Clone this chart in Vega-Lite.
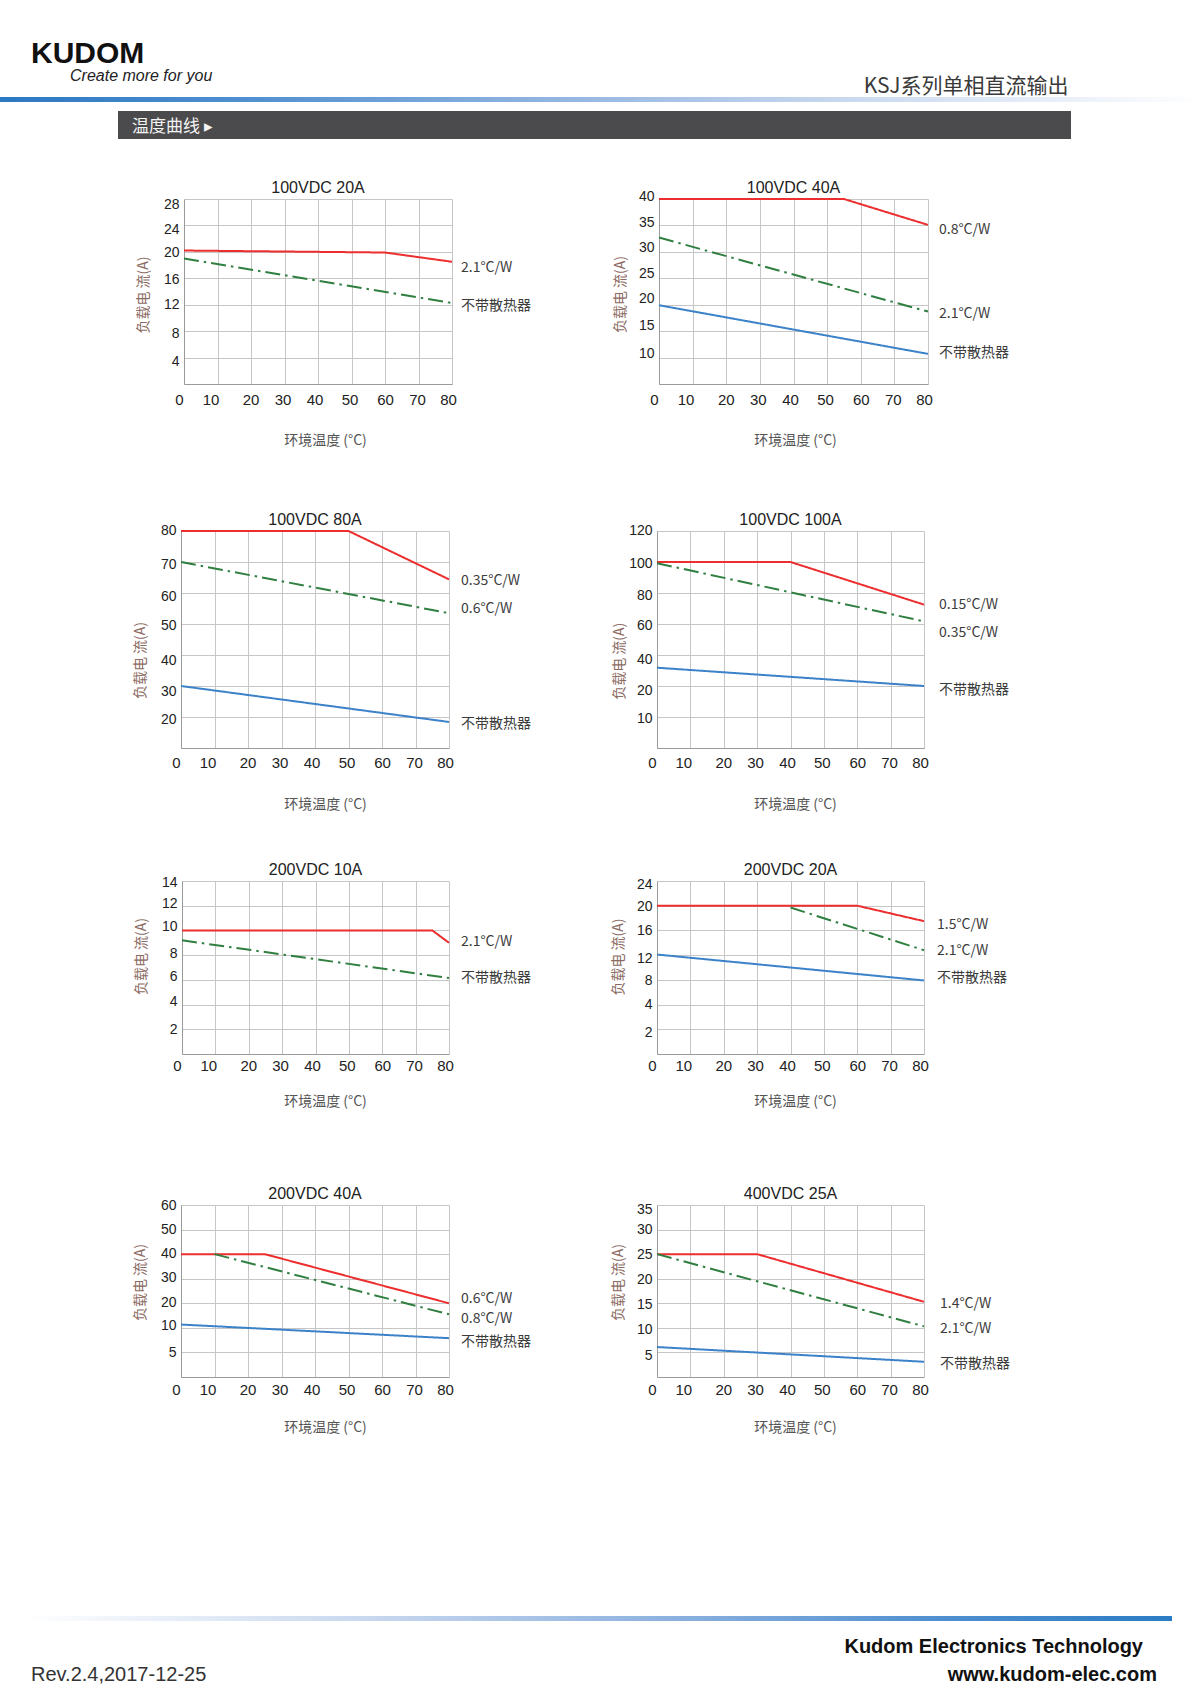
{
  "$schema": "https://vega.github.io/schema/vega-lite/v6.json",
  "padding": 0,
  "background": "white",
  "spacing": 0,
  "datasets": {
    "curves": [
      {"c":"100VDC 20A","k":1,"t":0,"i":20.2},{"c":"100VDC 20A","k":1,"t":60,"i":19.9},{"c":"100VDC 20A","k":1,"t":80,"i":18.5},
      {"c":"100VDC 20A","k":2,"t":0,"i":19.0},{"c":"100VDC 20A","k":2,"t":80,"i":12.25},
      {"c":"100VDC 40A","k":1,"t":0,"i":40},{"c":"100VDC 40A","k":1,"t":55,"i":40},{"c":"100VDC 40A","k":1,"t":80,"i":35.1},
      {"c":"100VDC 40A","k":2,"t":0,"i":32.7},{"c":"100VDC 40A","k":2,"t":80,"i":18.7},
      {"c":"100VDC 40A","k":3,"t":0,"i":19.9},{"c":"100VDC 40A","k":3,"t":80,"i":10.7},
      {"c":"100VDC 80A","k":1,"t":0,"i":80},{"c":"100VDC 80A","k":1,"t":50,"i":80},{"c":"100VDC 80A","k":1,"t":80,"i":64.4},
      {"c":"100VDC 80A","k":2,"t":0,"i":70},{"c":"100VDC 80A","k":2,"t":80,"i":53.5},
      {"c":"100VDC 80A","k":3,"t":0,"i":30},{"c":"100VDC 80A","k":3,"t":80,"i":18.4},
      {"c":"100VDC 100A","k":1,"t":0,"i":100},{"c":"100VDC 100A","k":1,"t":40,"i":100},{"c":"100VDC 100A","k":1,"t":80,"i":72.5},
      {"c":"100VDC 100A","k":2,"t":0,"i":99.2},{"c":"100VDC 100A","k":2,"t":80,"i":61.7},
      {"c":"100VDC 100A","k":3,"t":0,"i":31.8},{"c":"100VDC 100A","k":3,"t":80,"i":20},
      {"c":"200VDC 10A","k":1,"t":0,"i":10},{"c":"200VDC 10A","k":1,"t":75,"i":10},{"c":"200VDC 10A","k":1,"t":80,"i":9.0},
      {"c":"200VDC 10A","k":2,"t":0,"i":9.2},{"c":"200VDC 10A","k":2,"t":80,"i":6.15},
      {"c":"200VDC 20A","k":1,"t":0,"i":20},{"c":"200VDC 20A","k":1,"t":60,"i":20},{"c":"200VDC 20A","k":1,"t":80,"i":17.5},
      {"c":"200VDC 20A","k":2,"t":40,"i":19.7},{"c":"200VDC 20A","k":2,"t":80,"i":12.8},
      {"c":"200VDC 20A","k":3,"t":0,"i":12.1},{"c":"200VDC 20A","k":3,"t":80,"i":7.9},
      {"c":"200VDC 40A","k":1,"t":0,"i":40},{"c":"200VDC 40A","k":1,"t":25,"i":40},{"c":"200VDC 40A","k":1,"t":80,"i":20},
      {"c":"200VDC 40A","k":2,"t":10,"i":40},{"c":"200VDC 40A","k":2,"t":80,"i":15.5},
      {"c":"200VDC 40A","k":3,"t":0,"i":11.35},{"c":"200VDC 40A","k":3,"t":80,"i":5.8},
      {"c":"400VDC 25A","k":1,"t":0,"i":25},{"c":"400VDC 25A","k":1,"t":30,"i":25},{"c":"400VDC 25A","k":1,"t":80,"i":15.3},
      {"c":"400VDC 25A","k":2,"t":0,"i":25},{"c":"400VDC 25A","k":2,"t":80,"i":10.3},
      {"c":"400VDC 25A","k":3,"t":0,"i":6.1},{"c":"400VDC 25A","k":3,"t":80,"i":3.1}
    ],
    "labels": [
      {"c":"100VDC 20A","label":"2.1°C/W","i":17.6},{"c":"100VDC 20A","label":"不带散热器","i":11.8},
      {"c":"100VDC 40A","label":"0.8°C/W","i":34.1},{"c":"100VDC 40A","label":"2.1°C/W","i":18.2},{"c":"100VDC 40A","label":"不带散热器","i":10.8},
      {"c":"100VDC 80A","label":"0.35°C/W","i":63.9},{"c":"100VDC 80A","label":"0.6°C/W","i":54.9},{"c":"100VDC 80A","label":"不带散热器","i":17.8},
      {"c":"100VDC 100A","label":"0.15°C/W","i":72.5},{"c":"100VDC 100A","label":"0.35°C/W","i":54.2},{"c":"100VDC 100A","label":"不带散热器","i":17.3},
      {"c":"200VDC 10A","label":"2.1°C/W","i":9.05},{"c":"200VDC 10A","label":"不带散热器","i":6.13},
      {"c":"200VDC 20A","label":"1.5°C/W","i":16.9},{"c":"200VDC 20A","label":"2.1°C/W","i":12.75},{"c":"200VDC 20A","label":"不带散热器","i":8.24},
      {"c":"200VDC 40A","label":"0.6°C/W","i":21.9},{"c":"200VDC 40A","label":"0.8°C/W","i":13.8},{"c":"200VDC 40A","label":"不带散热器","i":4.4},
      {"c":"400VDC 25A","label":"1.4°C/W","i":14.9},{"c":"400VDC 25A","label":"2.1°C/W","i":9.7},{"c":"400VDC 25A","label":"不带散热器","i":2.6}
    ]
  },
  "vconcat": [
    {
      "spacing": 0, "bounds": "flush",
      "hconcat": [
        {"width": 70, "height": 95, "data": {"values": []}, "mark": "rect", "encoding": {},
         "title": {"text": "KUDOM", "anchor": "start", "frame": "group", "orient": "top", "offset": -93, "baseline": "alphabetic", "dx": 31, "font": "Liberation Sans", "fontSize": 30, "fontWeight": "bold", "color": "#111111"}},
        {"width": 800, "height": 95, "data": {"values": []}, "mark": "rect", "encoding": {},
         "title": {"text": "Create more for you", "anchor": "start", "frame": "group", "orient": "top", "offset": -97, "baseline": "alphabetic", "dx": 0, "font": "Liberation Sans", "fontSize": 16, "fontStyle": "italic", "fontWeight": "normal", "color": "#222222"}},
        {"width": 333, "height": 95, "data": {"values": []}, "mark": "rect", "encoding": {},
         "title": {"text": "KSJ系列单相直流输出", "anchor": "end", "frame": "group", "orient": "top", "offset": -113.5, "baseline": "alphabetic", "dx": -134.5, "font": "Noto Sans CJK SC", "fontSize": 21, "fontWeight": "normal", "color": "#3a3a3a"}}
      ]
    },
    {"width": 1203, "height": 5, "data": {"values": [{}]},
     "mark": {"type": "rect", "fill": {"gradient": "linear", "x1": 0, "y1": 0, "x2": 1, "y2": 0, "stops": [
       {"offset": 0, "color": "#2b78c2"}, {"offset": 0.2, "color": "#4f8fd0"}, {"offset": 0.45, "color": "#8fb3e0"}, {"offset": 0.7, "color": "#c8d8ef"}, {"offset": 1, "color": "#ffffff"}]}},
     "encoding": {}},
    {"width": 1, "height": 9, "data": {"values": []}, "mark": "rect", "encoding": {}},
    {
      "spacing": 0, "bounds": "flush",
      "hconcat": [
        {"width": 118, "height": 1, "data": {"values": []}, "mark": "rect", "encoding": {}},
        {"width": 953, "height": 28, "data": {"values": [{}]}, "mark": {"type": "rect", "fill": "#4b4b4d"}, "encoding": {},
         "title": {"text": "温度曲线 ▸", "anchor": "start", "frame": "group", "orient": "top", "offset": -38, "baseline": "alphabetic", "dx": 14, "font": "Noto Sans CJK SC", "fontSize": 17, "fontWeight": "normal", "color": "#f4f4f4"}}
      ]
    },
    {"width": 1, "height": 41, "data": {"values": []}, "mark": "rect", "encoding": {}},
    {
      "spacing": 0, "bounds": "flush",
      "hconcat": [
        {"width": 184, "height": 1, "data": {"values": []}, "mark": "rect", "encoding": {}},
        {
          "width": 268, "height": 185,
          "title": {"text": "100VDC 20A", "offset": 1},
          "layer": [
            {"data": {"name": "curves"}, "transform": [{"filter": "datum.c === '100VDC 20A'"}],
             "mark": {"type": "line", "strokeWidth": 2, "strokeCap": "butt"},
             "encoding": {
               "x": {"field": "t", "type": "quantitative", "scale": {"domain": [0, 80], "nice": false, "zero": false},
                     "axis": {"values": [0,10,20,30,40,50,60,70,80], "tickCount": 30, "format": "d", "title": "环境温度 (°C)", "titleX": 141, "titleY": 56, "labelPadding": 8.5}},
               "y": {"field": "i", "type": "quantitative", "scale": {"domain": [0, 28], "nice": false, "zero": false},
                     "axis": {"values": [4,8,12,16,20,24,28], "tickCount": 30, "format": "d", "title": "负载电 流(A)", "titleX": -41, "titleY": 95.5,
                              "labelOffset": {"expr": "datum.value == 28 ? 5 : datum.value == 24 ? 4 : datum.value == 20 ? 0.7 : datum.value == 16 ? 1 : datum.value == 8 ? 2 : datum.value == 4 ? 4 : 0"}}},
               "color": {"field": "k", "type": "nominal", "scale": {"domain": [1,2,3], "range": ["#ec2e2e","#2f7f40","#3b82c9"]}, "legend": null},
               "strokeDash": {"field": "k", "type": "nominal", "scale": {"domain": [1,2,3], "range": [[1,0],[15,5,2.5,5],[1,0]]}, "legend": null}
             }},
            {"data": {"name": "labels"}, "transform": [{"filter": "datum.c === '100VDC 20A'"}],
             "mark": {"type": "text", "align": "left", "baseline": "middle", "dx": 9, "font": "Noto Sans CJK SC", "fontSize": 14, "color": "#3c3c3c"},
             "encoding": {
               "x": {"datum": 80, "type": "quantitative", "title": "环境温度 (°C)"},
               "y": {"field": "i", "type": "quantitative", "title": "负载电 流(A)"},
               "text": {"field": "label", "type": "nominal"}
             }}
          ]
        },
        {"width": 207, "height": 1, "data": {"values": []}, "mark": "rect", "encoding": {}},
        {
          "width": 269, "height": 185,
          "title": {"text": "100VDC 40A", "offset": -6.3},
          "layer": [
            {"data": {"name": "curves"}, "transform": [{"filter": "datum.c === '100VDC 40A'"}],
             "mark": {"type": "line", "strokeWidth": 2, "strokeCap": "butt"},
             "encoding": {
               "x": {"field": "t", "type": "quantitative", "scale": {"domain": [0, 80], "nice": false, "zero": false},
                     "axis": {"values": [0,10,20,30,40,50,60,70,80], "tickCount": 30, "format": "d", "title": "环境温度 (°C)", "titleX": 136, "titleY": 56, "labelPadding": 8.5}},
               "y": {"field": "i", "type": "quantitative", "scale": {"domain": [5, 40], "nice": false, "zero": false},
                     "axis": {"values": [10,15,20,25,30,35,40], "tickCount": 30, "format": "d", "title": "负载电 流(A)", "titleX": -39, "titleY": 95,
                              "labelOffset": {"expr": "datum.value == 40 ? -2.3 : datum.value == 35 ? -2.6 : datum.value == 30 ? -4.4 : datum.value == 25 ? -4.7 : datum.value == 20 ? -6.6 : datum.value == 15 ? -5.7 : -3.7"}}},
               "color": {"field": "k", "type": "nominal", "scale": {"domain": [1,2,3], "range": ["#ec2e2e","#2f7f40","#3b82c9"]}, "legend": null},
               "strokeDash": {"field": "k", "type": "nominal", "scale": {"domain": [1,2,3], "range": [[1,0],[15,5,2.5,5],[1,0]]}, "legend": null}
             }},
            {"data": {"name": "labels"}, "transform": [{"filter": "datum.c === '100VDC 40A'"}],
             "mark": {"type": "text", "align": "left", "baseline": "middle", "dx": 11, "font": "Noto Sans CJK SC", "fontSize": 14, "color": "#3c3c3c"},
             "encoding": {
               "x": {"datum": 80, "type": "quantitative", "title": "环境温度 (°C)"},
               "y": {"field": "i", "type": "quantitative", "title": "负载电 流(A)"},
               "text": {"field": "label", "type": "nominal"}
             }}
          ]
        }
      ]
    },
    {"width": 1, "height": 65, "data": {"values": []}, "mark": "rect", "encoding": {}},
    {
      "spacing": 0, "bounds": "flush",
      "hconcat": [
        {"width": 181, "height": 1, "data": {"values": []}, "mark": "rect", "encoding": {}},
        {
          "width": 268, "height": 217,
          "title": {"text": "100VDC 80A", "offset": -4.7},
          "layer": [
            {"data": {"name": "curves"}, "transform": [{"filter": "datum.c === '100VDC 80A'"}],
             "mark": {"type": "line", "strokeWidth": 2, "strokeCap": "butt"},
             "encoding": {
               "x": {"field": "t", "type": "quantitative", "scale": {"domain": [0, 80], "nice": false, "zero": false},
                     "axis": {"values": [0,10,20,30,40,50,60,70,80], "tickCount": 30, "format": "d", "title": "环境温度 (°C)", "titleX": 144, "titleY": 56, "labelPadding": 7.5}},
               "y": {"field": "i", "type": "quantitative", "scale": {"domain": [10, 80], "nice": false, "zero": false},
                     "axis": {"values": [20,30,40,50,60,70,80], "tickCount": 30, "format": "d", "title": "负载电 流(A)", "titleX": -41, "titleY": 129,
                              "labelOffset": {"expr": "datum.value == 80 ? -0.7 : datum.value == 70 ? 2.3 : datum.value == 60 ? 3 : datum.value == 50 ? 1.7 : datum.value == 40 ? 5.7 : datum.value == 30 ? 5.3 : 2"}}},
               "color": {"field": "k", "type": "nominal", "scale": {"domain": [1,2,3], "range": ["#ec2e2e","#2f7f40","#3b82c9"]}, "legend": null},
               "strokeDash": {"field": "k", "type": "nominal", "scale": {"domain": [1,2,3], "range": [[1,0],[15,5,2.5,5],[1,0]]}, "legend": null}
             }},
            {"data": {"name": "labels"}, "transform": [{"filter": "datum.c === '100VDC 80A'"}],
             "mark": {"type": "text", "align": "left", "baseline": "middle", "dx": 12, "font": "Noto Sans CJK SC", "fontSize": 14, "color": "#3c3c3c"},
             "encoding": {
               "x": {"datum": 80, "type": "quantitative", "title": "环境温度 (°C)"},
               "y": {"field": "i", "type": "quantitative", "title": "负载电 流(A)"},
               "text": {"field": "label", "type": "nominal"}
             }}
          ]
        },
        {"width": 208, "height": 1, "data": {"values": []}, "mark": "rect", "encoding": {}},
        {
          "width": 267, "height": 217,
          "title": {"text": "100VDC 100A", "offset": -5},
          "layer": [
            {"data": {"name": "curves"}, "transform": [{"filter": "datum.c === '100VDC 100A'"}],
             "mark": {"type": "line", "strokeWidth": 2, "strokeCap": "butt"},
             "encoding": {
               "x": {"field": "t", "type": "quantitative", "scale": {"domain": [0, 80], "nice": false, "zero": false},
                     "axis": {"values": [0,10,20,30,40,50,60,70,80], "tickCount": 30, "format": "d", "title": "环境温度 (°C)", "titleX": 138, "titleY": 56, "labelPadding": 7.5}},
               "y": {"field": "i", "type": "quantitative", "scale": {"domain": [-20, 120], "nice": false, "zero": false},
                     "axis": {"values": [0,20,40,60,80,100,120], "tickCount": 30, "format": "d", "labelExpr": "datum.value == 0 ? '10' : datum.label", "title": "负载电 流(A)", "titleX": -38, "titleY": 129.7,
                              "labelOffset": {"expr": "datum.value == 120 ? -1 : datum.value == 100 ? 1.3 : datum.value == 80 ? 2.7 : datum.value == 60 ? 1.3 : datum.value == 40 ? 4.4 : datum.value == 20 ? 4.3 : 1.6"}}},
               "color": {"field": "k", "type": "nominal", "scale": {"domain": [1,2,3], "range": ["#ec2e2e","#2f7f40","#3b82c9"]}, "legend": null},
               "strokeDash": {"field": "k", "type": "nominal", "scale": {"domain": [1,2,3], "range": [[1,0],[15,5,2.5,5],[1,0]]}, "legend": null}
             }},
            {"data": {"name": "labels"}, "transform": [{"filter": "datum.c === '100VDC 100A'"}],
             "mark": {"type": "text", "align": "left", "baseline": "middle", "dx": 15, "font": "Noto Sans CJK SC", "fontSize": 14, "color": "#3c3c3c"},
             "encoding": {
               "x": {"datum": 80, "type": "quantitative", "title": "环境温度 (°C)"},
               "y": {"field": "i", "type": "quantitative", "title": "负载电 流(A)"},
               "text": {"field": "label", "type": "nominal"}
             }}
          ]
        }
      ]
    },
    {"width": 1, "height": 51, "data": {"values": []}, "mark": "rect", "encoding": {}},
    {
      "spacing": 0, "bounds": "flush",
      "hconcat": [
        {"width": 182, "height": 1, "data": {"values": []}, "mark": "rect", "encoding": {}},
        {
          "width": 267, "height": 173,
          "title": {"text": "200VDC 10A", "offset": -3},
          "layer": [
            {"data": {"name": "curves"}, "transform": [{"filter": "datum.c === '200VDC 10A'"}],
             "mark": {"type": "line", "strokeWidth": 2, "strokeCap": "butt"},
             "encoding": {
               "x": {"field": "t", "type": "quantitative", "scale": {"domain": [0, 80], "nice": false, "zero": false},
                     "axis": {"values": [0,10,20,30,40,50,60,70,80], "tickCount": 30, "format": "d", "title": "环境温度 (°C)", "titleX": 143, "titleY": 47, "labelPadding": 4}},
               "y": {"field": "i", "type": "quantitative", "scale": {"domain": [0, 14], "nice": false, "zero": false},
                     "axis": {"values": [2,4,6,8,10,12,14], "tickCount": 30, "format": "d", "title": "负载电 流(A)", "titleX": -41, "titleY": 75,
                              "labelOffset": {"expr": "datum.value == 14 ? 1 : datum.value == 12 ? -2.7 : datum.value == 10 ? -4 : datum.value == 8 ? -2 : datum.value == 6 ? -3.4 : datum.value == 4 ? -3.3 : 0.6"}}},
               "color": {"field": "k", "type": "nominal", "scale": {"domain": [1,2,3], "range": ["#ec2e2e","#2f7f40","#3b82c9"]}, "legend": null},
               "strokeDash": {"field": "k", "type": "nominal", "scale": {"domain": [1,2,3], "range": [[1,0],[15,5,2.5,5],[1,0]]}, "legend": null}
             }},
            {"data": {"name": "labels"}, "transform": [{"filter": "datum.c === '200VDC 10A'"}],
             "mark": {"type": "text", "align": "left", "baseline": "middle", "dx": 12, "font": "Noto Sans CJK SC", "fontSize": 14, "color": "#3c3c3c"},
             "encoding": {
               "x": {"datum": 80, "type": "quantitative", "title": "环境温度 (°C)"},
               "y": {"field": "i", "type": "quantitative", "title": "负载电 流(A)"},
               "text": {"field": "label", "type": "nominal"}
             }}
          ]
        },
        {"width": 208, "height": 1, "data": {"values": []}, "mark": "rect", "encoding": {}},
        {
          "width": 267, "height": 173,
          "title": {"text": "200VDC 20A", "offset": -0.7},
          "layer": [
            {"data": {"name": "curves"}, "transform": [{"filter": "datum.c === '200VDC 20A'"}],
             "mark": {"type": "line", "strokeWidth": 2, "strokeCap": "butt"},
             "encoding": {
               "x": {"field": "t", "type": "quantitative", "scale": {"domain": [0, 80], "nice": false, "zero": false},
                     "axis": {"values": [0,10,20,30,40,50,60,70,80], "tickCount": 30, "format": "d", "title": "环境温度 (°C)", "titleX": 138, "titleY": 47, "labelPadding": 4}},
               "y": {"field": "i", "type": "quantitative", "scale": {"domain": [-4, 24], "nice": false, "zero": false},
                     "axis": {"values": [0,4,8,12,16,20,24], "tickCount": 30, "format": "d", "labelExpr": "datum.value == 0 ? '2' : datum.label", "title": "负载电 流(A)", "titleX": -38.5, "titleY": 75.5,
                              "labelOffset": {"expr": "datum.value == 24 ? 3.3 : datum.value == 20 ? 1.2 : datum.value == 16 ? -0.2 : datum.value == 12 ? 3 : datum.value == 8 ? 0.3 : datum.value == 4 ? 0.2 : 3.1"}}},
               "color": {"field": "k", "type": "nominal", "scale": {"domain": [1,2,3], "range": ["#ec2e2e","#2f7f40","#3b82c9"]}, "legend": null},
               "strokeDash": {"field": "k", "type": "nominal", "scale": {"domain": [1,2,3], "range": [[1,0],[15,5,2.5,5],[1,0]]}, "legend": null}
             }},
            {"data": {"name": "labels"}, "transform": [{"filter": "datum.c === '200VDC 20A'"}],
             "mark": {"type": "text", "align": "left", "baseline": "middle", "dx": 13, "font": "Noto Sans CJK SC", "fontSize": 14, "color": "#3c3c3c"},
             "encoding": {
               "x": {"datum": 80, "type": "quantitative", "title": "环境温度 (°C)"},
               "y": {"field": "i", "type": "quantitative", "title": "负载电 流(A)"},
               "text": {"field": "label", "type": "nominal"}
             }}
          ]
        }
      ]
    },
    {"width": 1, "height": 78, "data": {"values": []}, "mark": "rect", "encoding": {}},
    {
      "spacing": 0, "bounds": "flush",
      "hconcat": [
        {"width": 181, "height": 1, "data": {"values": []}, "mark": "rect", "encoding": {}},
        {
          "width": 268, "height": 172,
          "title": {"text": "200VDC 40A", "offset": -3.4},
          "layer": [
            {"data": {"name": "curves"}, "transform": [{"filter": "datum.c === '200VDC 40A'"}],
             "mark": {"type": "line", "strokeWidth": 2, "strokeCap": "butt"},
             "encoding": {
               "x": {"field": "t", "type": "quantitative", "scale": {"domain": [0, 80], "nice": false, "zero": false},
                     "axis": {"values": [0,10,20,30,40,50,60,70,80], "tickCount": 30, "format": "d", "title": "环境温度 (°C)", "titleX": 144, "titleY": 50, "labelPadding": 5.5}},
               "y": {"field": "i", "type": "quantitative", "scale": {"domain": [-10, 60], "nice": false, "zero": false},
                     "axis": {"values": [0,10,20,30,40,50,60], "tickCount": 30, "format": "d", "labelExpr": "datum.value == 0 ? '5' : datum.label", "title": "负载电 流(A)", "titleX": -41, "titleY": 77,
                              "labelOffset": {"expr": "datum.value == 60 ? 0.6 : datum.value == 40 ? -0.7 : datum.value == 30 ? -1 : datum.value == 20 ? -0.6 : datum.value == 10 ? -2.7 : 0"}}},
               "color": {"field": "k", "type": "nominal", "scale": {"domain": [1,2,3], "range": ["#ec2e2e","#2f7f40","#3b82c9"]}, "legend": null},
               "strokeDash": {"field": "k", "type": "nominal", "scale": {"domain": [1,2,3], "range": [[1,0],[15,5,2.5,5],[1,0]]}, "legend": null}
             }},
            {"data": {"name": "labels"}, "transform": [{"filter": "datum.c === '200VDC 40A'"}],
             "mark": {"type": "text", "align": "left", "baseline": "middle", "dx": 12, "font": "Noto Sans CJK SC", "fontSize": 14, "color": "#3c3c3c"},
             "encoding": {
               "x": {"datum": 80, "type": "quantitative", "title": "环境温度 (°C)"},
               "y": {"field": "i", "type": "quantitative", "title": "负载电 流(A)"},
               "text": {"field": "label", "type": "nominal"}
             }}
          ]
        },
        {"width": 208, "height": 1, "data": {"values": []}, "mark": "rect", "encoding": {}},
        {
          "width": 267, "height": 172,
          "title": {"text": "400VDC 25A", "offset": 0.6},
          "layer": [
            {"data": {"name": "curves"}, "transform": [{"filter": "datum.c === '400VDC 25A'"}],
             "mark": {"type": "line", "strokeWidth": 2, "strokeCap": "butt"},
             "encoding": {
               "x": {"field": "t", "type": "quantitative", "scale": {"domain": [0, 80], "nice": false, "zero": false},
                     "axis": {"values": [0,10,20,30,40,50,60,70,80], "tickCount": 30, "format": "d", "title": "环境温度 (°C)", "titleX": 138, "titleY": 50, "labelPadding": 5.5}},
               "y": {"field": "i", "type": "quantitative", "scale": {"domain": [0, 35], "nice": false, "zero": false},
                     "axis": {"values": [5,10,15,20,25,30,35], "tickCount": 30, "format": "d", "title": "负载电 流(A)", "titleX": -38.5, "titleY": 77,
                              "labelOffset": {"expr": "datum.value == 35 ? 4.6 : datum.value == 30 ? 0 : datum.value == 25 ? 0.3 : datum.value == 20 ? 0.6 : datum.value == 15 ? 1 : datum.value == 10 ? 1.3 : 3.4"}}},
               "color": {"field": "k", "type": "nominal", "scale": {"domain": [1,2,3], "range": ["#ec2e2e","#2f7f40","#3b82c9"]}, "legend": null},
               "strokeDash": {"field": "k", "type": "nominal", "scale": {"domain": [1,2,3], "range": [[1,0],[15,5,2.5,5],[1,0]]}, "legend": null}
             }},
            {"data": {"name": "labels"}, "transform": [{"filter": "datum.c === '400VDC 25A'"}],
             "mark": {"type": "text", "align": "left", "baseline": "middle", "dx": 16, "font": "Noto Sans CJK SC", "fontSize": 14, "color": "#3c3c3c"},
             "encoding": {
               "x": {"datum": 80, "type": "quantitative", "title": "环境温度 (°C)"},
               "y": {"field": "i", "type": "quantitative", "title": "负载电 流(A)"},
               "text": {"field": "label", "type": "nominal"}
             }}
          ]
        }
      ]
    },
    {"width": 1, "height": 182, "data": {"values": []}, "mark": "rect", "encoding": {}},
    {
      "spacing": 0, "bounds": "flush",
      "hconcat": [
        {"width": 23, "height": 1, "data": {"values": []}, "mark": "rect", "encoding": {}},
        {"width": 1149, "height": 5, "data": {"values": [{}]},
         "mark": {"type": "rect", "fill": {"gradient": "linear", "x1": 0, "y1": 0, "x2": 1, "y2": 0, "stops": [
           {"offset": 0, "color": "#ffffff"}, {"offset": 0.3, "color": "#c8d8ef"}, {"offset": 0.55, "color": "#8fb3e0"}, {"offset": 0.8, "color": "#4f8fd0"}, {"offset": 1, "color": "#2b7cc4"}]}},
         "encoding": {}}
      ]
    },
    {
      "spacing": 0, "bounds": "flush",
      "hconcat": [
        {"width": 401, "height": 70, "data": {"values": []}, "mark": "rect", "encoding": {},
         "title": {"text": "Rev.2.4,2017-12-25", "anchor": "start", "frame": "group", "orient": "top", "offset": -80, "baseline": "alphabetic", "dx": 31, "font": "Liberation Sans", "fontSize": 20, "fontWeight": "normal", "color": "#333333"}},
        {"width": 401, "height": 70, "data": {"values": []}, "mark": "rect", "encoding": {},
         "title": {"text": "Kudom Electronics Technology", "anchor": "end", "frame": "group", "orient": "top", "offset": -52, "baseline": "alphabetic", "dx": 341, "font": "Liberation Sans", "fontSize": 20, "fontWeight": "bold", "color": "#111111"}},
        {"width": 401, "height": 70, "data": {"values": []}, "mark": "rect", "encoding": {},
         "title": {"text": "www.kudom-elec.com", "anchor": "end", "frame": "group", "orient": "top", "offset": -80, "baseline": "alphabetic", "dx": -46, "font": "Liberation Sans", "fontSize": 20, "fontWeight": "bold", "color": "#111111"}}
      ]
    }
  ],
  "config": {
    "view": {"stroke": null},
    "font": "Liberation Sans",
    "title": {"font": "Liberation Sans", "fontSize": 16, "fontWeight": "normal", "color": "#222222", "offset": -4, "baseline": "alphabetic", "frame": "group", "anchor": "middle"},
    "axis": {
      "ticks": false, "tickSize": 0, "tickCount": 30,
      "domainColor": "#9a9a9a", "domainWidth": 1,
      "gridColor": "#c6c6c6", "gridWidth": 1,
      "labelFont": "Liberation Sans", "labelColor": "#222222",
      "labelFlush": false, "labelOverlap": false,
      "titleFont": "Noto Sans CJK SC", "titleFontSize": 14, "titleFontWeight": "normal",
      "titleAlign": "center", "titleBaseline": "middle"
    },
    "axisX": {"labelFontSize": 15, "titleColor": "#555555", "titleAngle": 0,
      "labelOffset": {"expr": "datum.value == 0 ? -5 : datum.value == 10 ? -7 : datum.value == 20 ? -0.5 : datum.value == 30 ? -2 : datum.value == 40 ? -3.5 : datum.value == 50 ? -2 : datum.value == 60 ? 0 : datum.value == 70 ? -1.5 : -4"}},
    "axisY": {"labelFontSize": 14, "labelPadding": 5, "titleColor": "#8c6b63", "titleAngle": -90}
  }
}
